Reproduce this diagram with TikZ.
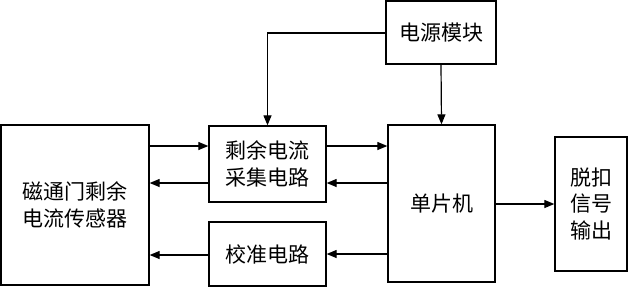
\documentclass[tikz,border=0pt]{standalone}
\usepackage{fontspec}
\newfontfamily\cjk{Noto Sans CJK SC}
\usetikzlibrary{arrows.meta}
\begin{document}
\begin{tikzpicture}[x=1pt,y=-1pt,
  blk/.style={draw,line width=1.3pt,inner sep=0pt,align=center,font=\cjk\fontsize{21}{26.5}\selectfont},
  arr/.style={line width=1.2pt,-{Triangle[length=10pt,width=8pt]}}]
\useasboundingbox (0,0) rectangle (628,287);
\node[blk,minimum width=148,minimum height=160] (sensor) at (75,205) {磁通门剩余\\电流传感器};
\node[blk,minimum width=117,minimum height=76] (acq) at (267.5,164) {剩余电流\\采集电路};
\node[blk,minimum width=117,minimum height=64] (cal) at (267.5,254) {校准电路};
\node[blk,minimum width=110,minimum height=63] (pwr) at (441,32.5) {电源模块};
\node[blk,minimum width=107,minimum height=157] (mcu) at (441.5,203.5) {单片机};
\node[blk,minimum width=72,minimum height=134] (out) at (591,204) {脱扣\\信号\\输出};
\draw[arr] (pwr.west |- 0,33) -| (acq.north);
\draw[arr] (pwr.south) -- (mcu.north);
\draw[arr] (sensor.east |- 0,146) -- (acq.west |- 0,146);
\draw[arr] (acq.west |- 0,183) -- (sensor.east |- 0,183);
\draw[arr] (acq.east |- 0,146) -- (mcu.west |- 0,146);
\draw[arr] (mcu.west |- 0,183) -- (acq.east |- 0,183);
\draw[arr] (mcu.west |- 0,254) -- (cal.east |- 0,254);
\draw[arr] (cal.west |- 0,255) -- (sensor.east |- 0,255);
\draw[arr] (mcu.east |- 0,204) -- (out.west |- 0,204);
\end{tikzpicture}
\end{document}
